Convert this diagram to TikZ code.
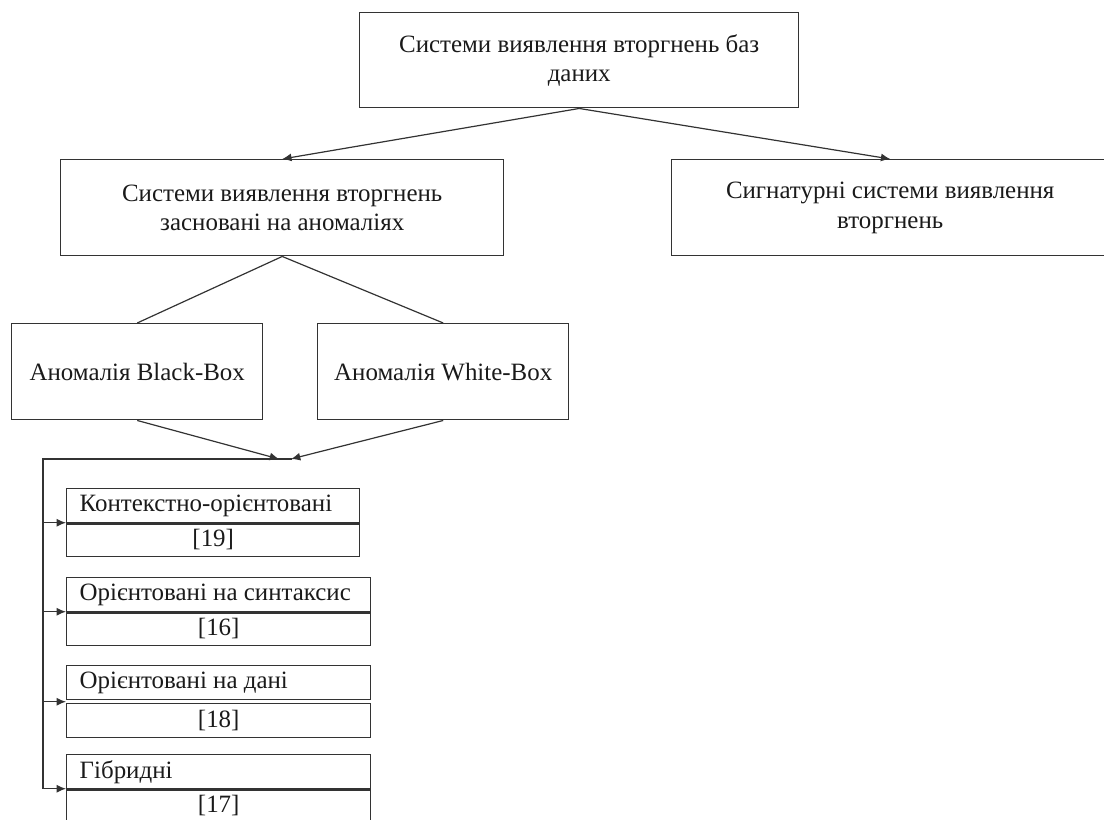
\documentclass[tikz,border=0pt]{standalone}
\usepackage{fontspec}
\setmainfont{Liberation Serif}
\usetikzlibrary{arrows.meta}
\usetikzlibrary{calc}
\definecolor{linec}{HTML}{333333}
\definecolor{textc}{HTML}{1A1A1A}
\tikzset{
	box/.style={draw=linec, line width=1.1pt, text=textc, align=center, inner sep=0pt,
		anchor=north west, font=\fontsize{18.7}{22}\selectfont},
	link/.style={draw=linec, line width=0.9pt},
	arr/.style={link, -{Latex[length=7pt,width=6pt]}},
}
\newcommand{\litbox}[6] % name, top y, right x, gap, title, ref
{
	% title part, text to the left
	\node[box, align=flush left, text width={(#3-66-26)*0.75pt}, inner xsep=9.75pt,
		minimum height=25.5pt] (#1t) at (66,#2) {#5};
	% reference part, text centred
	\node[box, text width={(#3-66-26)*0.75pt}, inner xsep=9.75pt,
		minimum height=25.5pt] (#1r) at (66,#2+34+#4) {#6};
	% joint edge drawn heavier
	\ifnum#4=0 \draw[linec, line width=1.9pt] (#1t.south west) -- (#1t.south east); \fi
	% arrow from the bus
	\coordinate (#1a) at ($(#1t.south west)!0.5!(#1r.north west)$);
	\draw[arr] (#1a -| bus) -- (#1a);
}

\begin{document}
\begin{tikzpicture}[x=0.75pt, y=-0.75pt]
	% page: 1104 x 820 px, y downwards
	\useasboundingbox (0,0) rectangle (1104,820);
	
	\node[box, minimum width=329.25pt, minimum height=71.25pt] (root) at (359,12)
		{Системи виявлення вторгнень баз\\даних};
	\node[box, minimum width=332.25pt, minimum height=72pt] (anom) at (60,159)
		{Системи виявлення вторгнень\\засновані на аномаліях};
	\node[box, minimum width=327.75pt, minimum height=72pt] (sig) at (671,159)
		{Сигнатурні системи виявлення\\вторгнень};
	\node[box, minimum width=188.25pt, minimum height=72pt] (black) at (11,323)
		{Аномалія Black-Box};
	\node[box, minimum width=188.25pt, minimum height=72pt] (white) at (317,323)
		{Аномалія White-Box};
	
	\draw[arr] (root.south) -- (anom.north);
	\draw[arr] (root.south) -- (sig.north);
	\draw[link] (anom.south) -- (black.north);
	\draw[link] (anom.south) -- (white.north);
	
	% bus to the list
	\coordinate (bus) at (43,459);
	\coordinate (busend) at (292,459);
	\coordinate (joinl) at (279,459);
	\coordinate (joinr) at (291,459);
	\draw[arr] (black.south) -- (joinl);
	\draw[arr] (white.south) -- (joinr);
	
	\litbox{ctx}{488}{359}{0}{Контекстно-орієнтовані}{[19]};
	\litbox{syn}{577}{370}{0}{Орієнтовані на синтаксис}{[16]};
	\litbox{dat}{665}{370}{4}{Орієнтовані на дані}{[18]};
	\litbox{hyb}{754}{370}{0}{Гібридні}{[17]};
	
	\draw[link, line join=miter] (busend) -- (bus) -- (bus |- hyba);
\end{tikzpicture}
\end{document}
